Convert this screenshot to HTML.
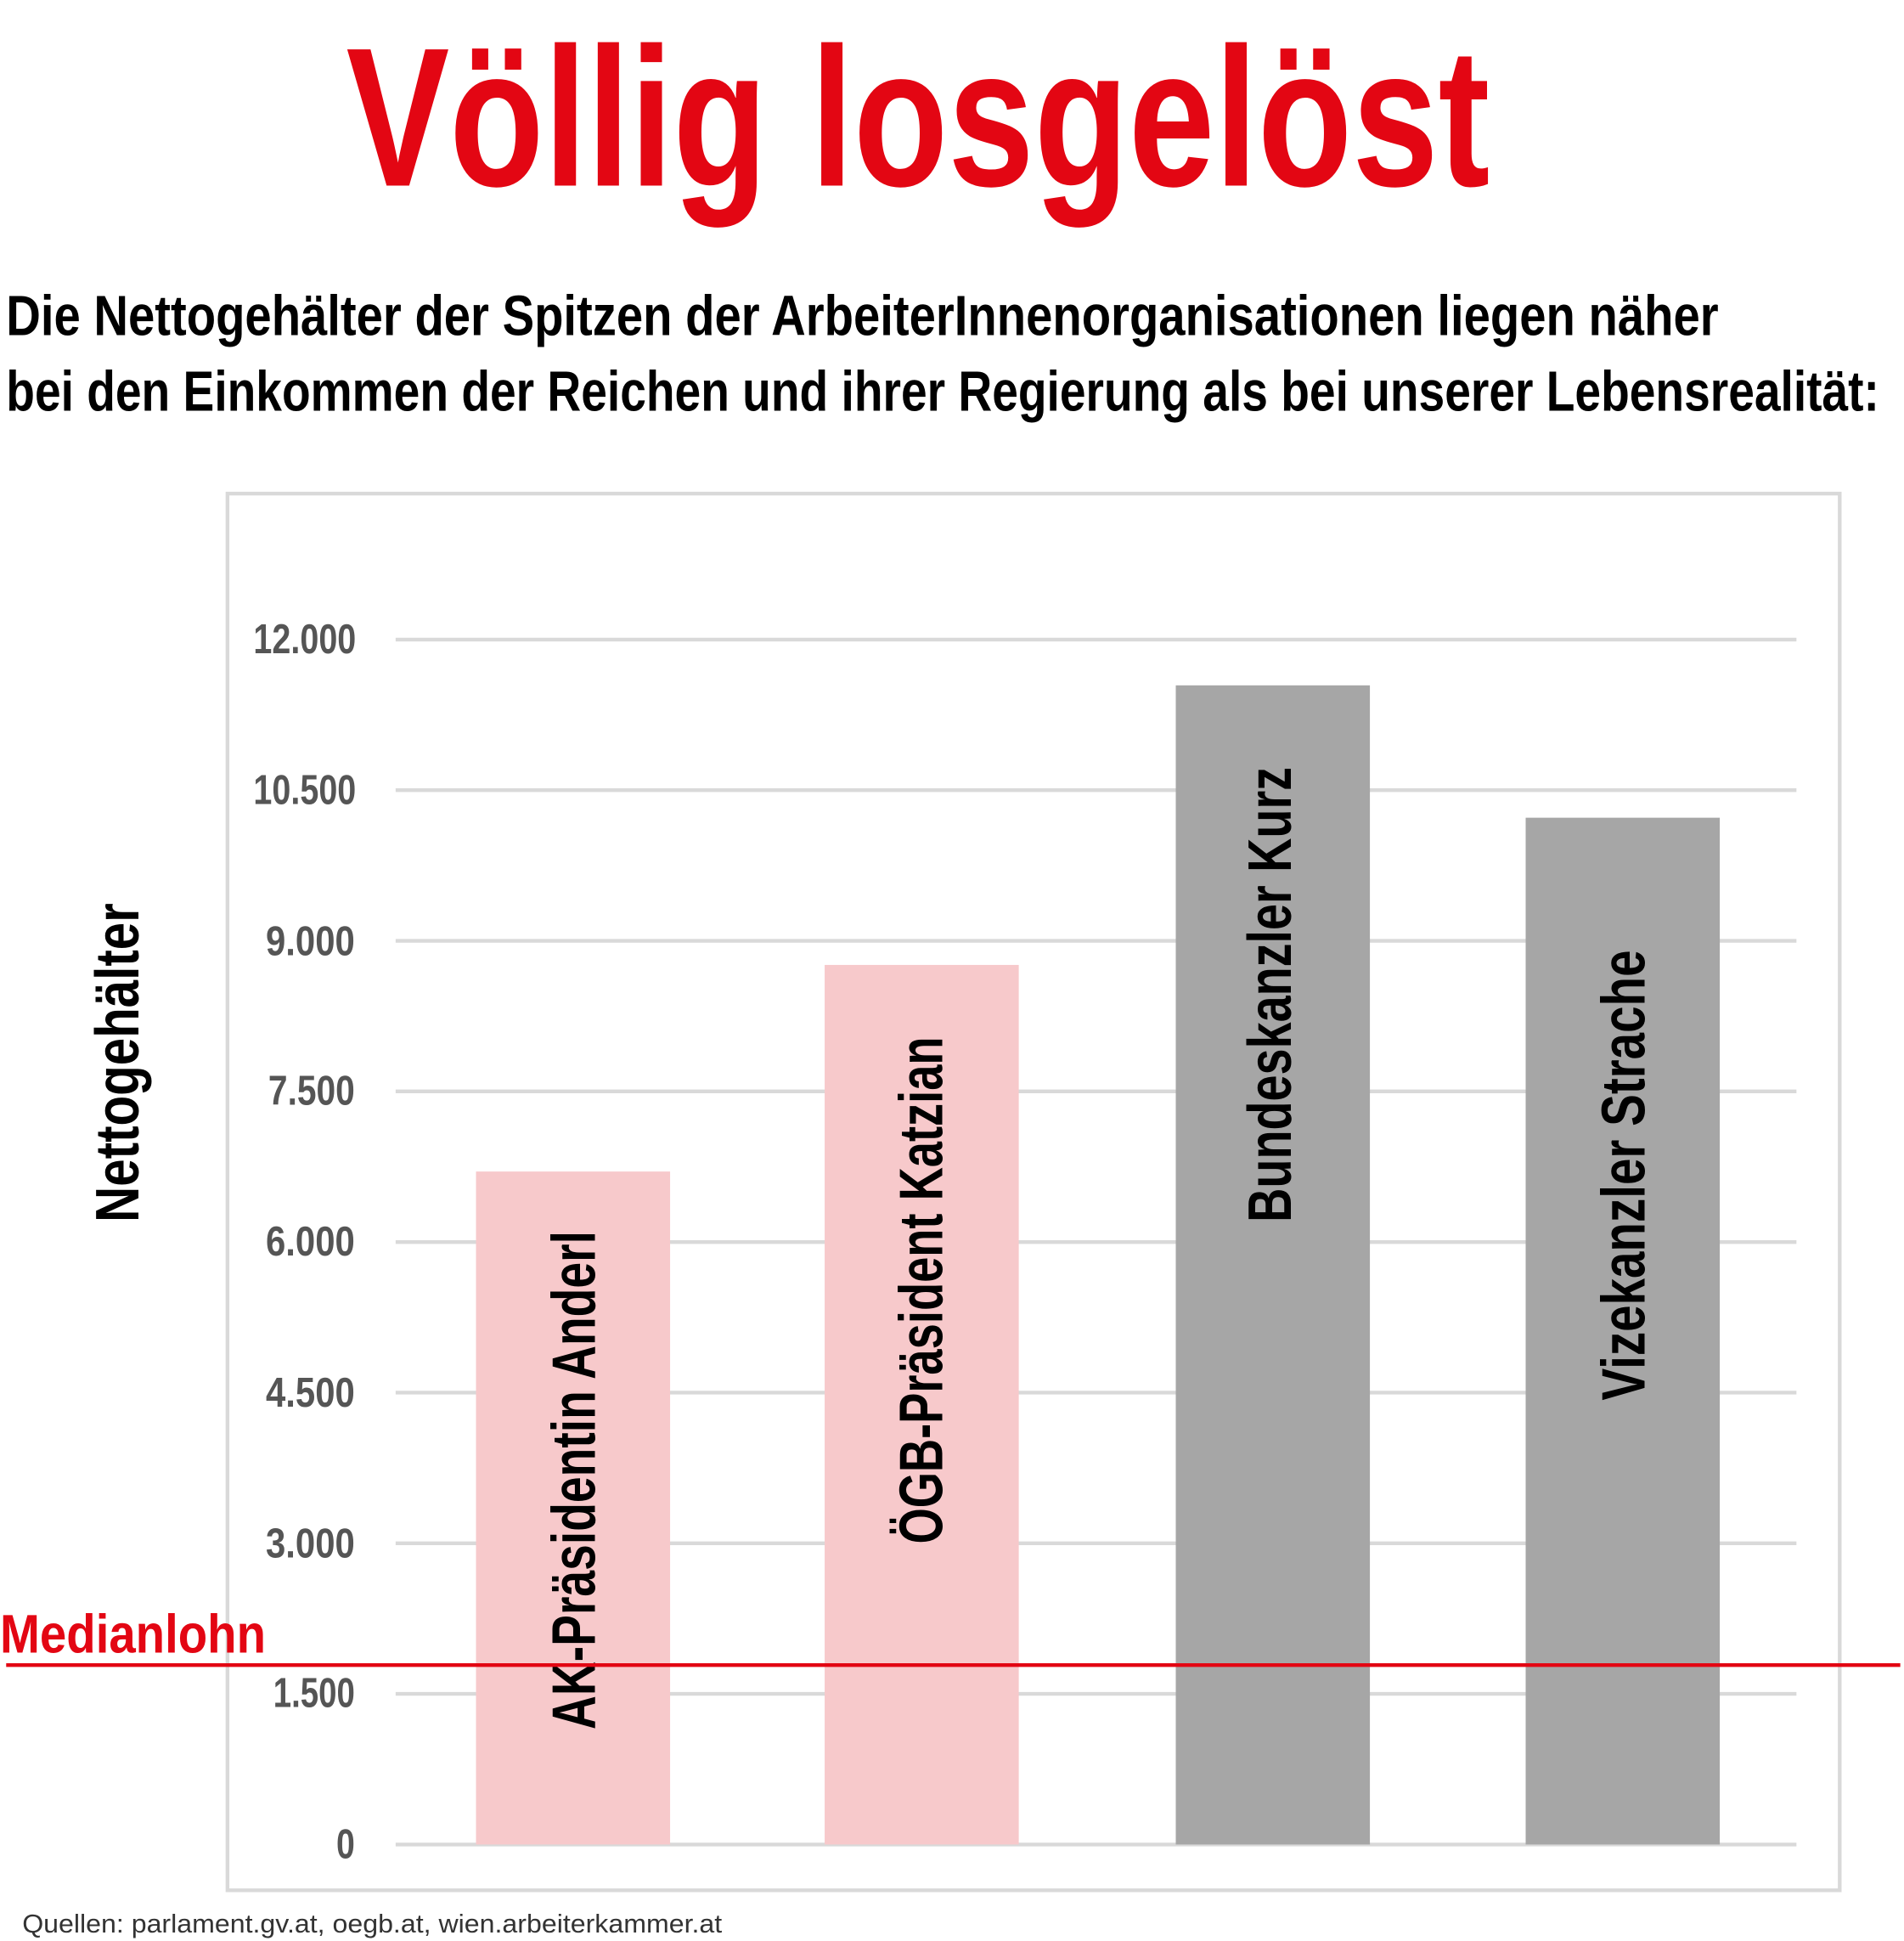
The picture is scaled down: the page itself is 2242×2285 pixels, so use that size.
<!DOCTYPE html>
<html><head><meta charset="utf-8"><style>
html,body{margin:0;padding:0;background:#fff;}
svg{display:block;}
text{font-family:"Liberation Sans","DejaVu Sans",sans-serif;font-weight:bold;}
</style></head><body>
<svg width="2242" height="2285" viewBox="0 0 1540 1569" preserveAspectRatio="none" xmlns="http://www.w3.org/2000/svg">
<rect width="1540" height="1569" fill="#fff"/>
<text x="280" y="150" font-size="160" fill="#e30613" textLength="925" lengthAdjust="spacingAndGlyphs">Völlig losgelöst</text>
<text x="5" y="271" font-size="46" fill="#000" textLength="1385" lengthAdjust="spacingAndGlyphs">Die Nettogehälter der Spitzen der ArbeiterInnenorganisationen liegen näher</text>
<text x="5" y="332" font-size="46" fill="#000" textLength="1515" lengthAdjust="spacingAndGlyphs">bei den Einkommen der Reichen und ihrer Regierung als bei unserer Lebensrealität:</text>
<rect x="184" y="399" width="1304" height="1129" fill="none" stroke="#d9d9d9" stroke-width="3"/>
<g stroke="#d9d9d9" stroke-width="3">
<line x1="320" x2="1453" y1="517" y2="517"/>
<line x1="320" x2="1453" y1="638.75" y2="638.75"/>
<line x1="320" x2="1453" y1="760.5" y2="760.5"/>
<line x1="320" x2="1453" y1="882.25" y2="882.25"/>
<line x1="320" x2="1453" y1="1004" y2="1004"/>
<line x1="320" x2="1453" y1="1125.75" y2="1125.75"/>
<line x1="320" x2="1453" y1="1247.5" y2="1247.5"/>
<line x1="320" x2="1453" y1="1369.25" y2="1369.25"/>
<line x1="320" x2="1453" y1="1491" y2="1491"/>
</g>
<g font-size="34" fill="#555">
<text x="205" y="528" textLength="83" lengthAdjust="spacingAndGlyphs">12.000</text>
<text x="205" y="650" textLength="83" lengthAdjust="spacingAndGlyphs">10.500</text>
<text x="215" y="772" textLength="72" lengthAdjust="spacingAndGlyphs">9.000</text>
<text x="217" y="893" textLength="70" lengthAdjust="spacingAndGlyphs">7.500</text>
<text x="215" y="1015" textLength="72" lengthAdjust="spacingAndGlyphs">6.000</text>
<text x="215" y="1137" textLength="72" lengthAdjust="spacingAndGlyphs">4.500</text>
<text x="215" y="1259" textLength="72" lengthAdjust="spacingAndGlyphs">3.000</text>
<text x="221" y="1380" textLength="66" lengthAdjust="spacingAndGlyphs">1.500</text>
<text x="272" y="1502" textLength="15" lengthAdjust="spacingAndGlyphs">0</text>
</g>
<rect x="385" y="947" width="157" height="544" fill="#f7c9cb"/>
<rect x="667" y="780" width="157" height="711" fill="#f7c9cb"/>
<rect x="951" y="554" width="157" height="937" fill="#a6a6a6"/>
<rect x="1234" y="661" width="157" height="830" fill="#a6a6a6"/>
<g font-size="50" fill="#000">
<text transform="translate(481,1398) rotate(-90)" textLength="403" lengthAdjust="spacingAndGlyphs">AK-Präsidentin Anderl</text>
<text transform="translate(762,1248) rotate(-90)" textLength="410" lengthAdjust="spacingAndGlyphs">ÖGB-Präsident Katzian</text>
<text transform="translate(1044,988) rotate(-90)" textLength="368" lengthAdjust="spacingAndGlyphs">Bundeskanzler Kurz</text>
<text transform="translate(1330,1132) rotate(-90)" textLength="364" lengthAdjust="spacingAndGlyphs">Vizekanzler Strache</text>
<text transform="translate(112,988) rotate(-90)" textLength="258" lengthAdjust="spacingAndGlyphs">Nettogehälter</text>
</g>
<line x1="5" x2="1537" y1="1346" y2="1346" stroke="#e30613" stroke-width="3"/>
<text x="0" y="1336" font-size="44" fill="#e30613" textLength="215" lengthAdjust="spacingAndGlyphs">Medianlohn</text>
<text x="18" y="1562" font-size="21" fill="#333" style="font-weight:normal" textLength="566" lengthAdjust="spacingAndGlyphs">Quellen: parlament.gv.at, oegb.at, wien.arbeiterkammer.at</text>
</svg>
</body></html>
